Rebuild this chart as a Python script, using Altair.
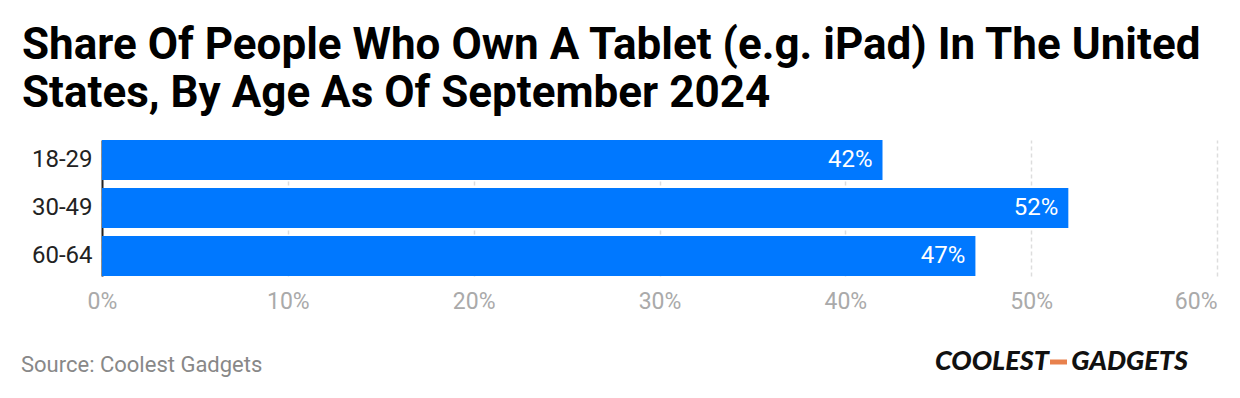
import altair as alt
import pandas as pd

# ---- data ----
ages = ["18-29", "30-49", "60-64"]
shares = [42, 52, 47]
x_ticks = [0, 10, 20, 30, 40, 50, 60]

title_lines = [
    "Share Of People Who Own A Tablet (e.g. iPad) In The United",
    "States, By Age As Of September 2024",
]
source_text = "Source: Coolest Gadgets"

df = pd.DataFrame({"age": ages, "share": shares})

W, H = 1115, 136
FONT = "Roboto"

base = alt.Chart(df).transform_calculate(label="datum.share + '%'")

y_enc = alt.Y(
    "age:N",
    sort=ages,
    scale=alt.Scale(paddingInner=0.1667, paddingOuter=0),
    axis=alt.Axis(
        title=None,
        ticks=False,
        grid=False,
        domainColor="#222222",
        domainWidth=2,
        labelFontSize=24,
        labelColor="#222222",
        labelFont=FONT,
        labelPadding=10,
    ),
)

bars = base.mark_bar(color="#0078FF").encode(
    x=alt.X(
        "share:Q",
        scale=alt.Scale(domain=[0, 60], nice=False),
        axis=alt.Axis(
            title=None,
            values=x_ticks,
            labelExpr="datum.value + '%'",
            labelFlush=False,
            labelAlign={"condition": {"test": "datum.value == 60", "value": "right"}, "value": "center"},
            grid=True,
            gridDash=[4, 3],
            gridColor="#dddddd",
            gridWidth=1.5,
            domain=False,
            ticks=False,
            labelFontSize=23,
            labelColor="#aaaaaa",
            labelFont=FONT,
            labelPadding=14,
        ),
    ),
    y=y_enc,
)

labels = base.mark_text(
    align="right", baseline="middle", dx=-10, color="white", fontSize=24, font=FONT
).encode(
    x=alt.X("share:Q"),
    y=alt.Y("age:N", sort=ages),
    text="label:N",
)

one = pd.DataFrame({"k": [0]})

title = alt.Chart(one).mark_text(
    text=title_lines,
    align="left",
    baseline="alphabetic",
    fontSize=44,
    fontWeight="bold",
    font=FONT,
    color="#000000",
    lineHeight=48,
).encode(x=alt.value(-80), y=alt.value(-81))

source = alt.Chart(one).mark_text(
    text=source_text,
    align="left",
    baseline="alphabetic",
    fontSize=22,
    font=FONT,
    color="#888888",
).encode(x=alt.value(-81), y=alt.value(232))

logo_left = alt.Chart(one).mark_text(
    text="COOLEST",
    align="left",
    baseline="alphabetic",
    fontSize=27,
    fontWeight=900,
    fontStyle="italic",
    font="Lato",
    color="#111111",
).encode(x=alt.value(833), y=alt.value(230))

logo_dash = alt.Chart(one).mark_rule(color="#E8814D", strokeWidth=5).encode(
    x=alt.value(948), x2=alt.value(965), y=alt.value(222)
)

logo_right = alt.Chart(one).mark_text(
    text="GADGETS",
    align="right",
    baseline="alphabetic",
    fontSize=27,
    fontWeight=900,
    fontStyle="italic",
    font="Lato",
    color="#111111",
).encode(x=alt.value(1086), y=alt.value(230))

chart = (
    alt.layer(bars, labels, title, source, logo_left, logo_dash, logo_right)
    .properties(
        width=W,
        height=H,
        background="white",
        autosize=alt.AutoSizeParams(type="none"),
        padding={"left": 94, "top": 132, "right": 15, "bottom": 110},
    )
    .configure_view(stroke=None)
)

chart.save("out.html", embed_options={"renderer": "svg", "actions": False})
